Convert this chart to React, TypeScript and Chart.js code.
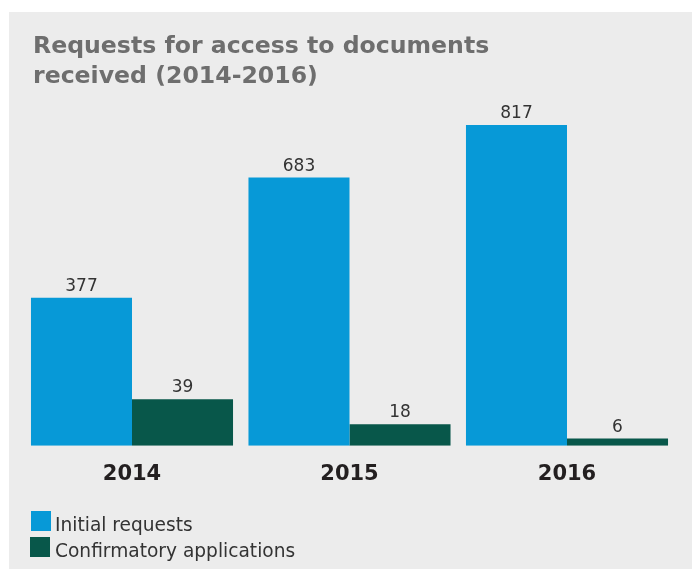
import React, { useEffect, useRef } from "react";
import { Chart, registerables } from "chart.js";

Chart.register(...registerables);

const titleLines = ["Requests for access to documents", "received (2014-2016)"];
const years = ["2014", "2015", "2016"];
const initialRequests = [377, 683, 817];
const confirmatoryApplications = [39, 18, 6];
const seriesNames = ["Initial requests", "Confirmatory applications"];
const seriesColors = ["#0799d7", "#08574a"];

const W = 683;
const H = 557;
const FONT = "'DejaVu Sans', Verdana, sans-serif";

const drawPlugin = {
  id: "customDraw",
  afterDatasetsDraw(chart: any) {
    const ctx = chart.ctx;
    ctx.save();
    // title
    ctx.fillStyle = "#6e6e6e";
    ctx.font = `bold 23.6px ${FONT}`;
    ctx.textAlign = "left";
    ctx.textBaseline = "alphabetic";
    titleLines.forEach((t, i) => ctx.fillText(t, 24, 41 + i * 30));

    // value labels
    ctx.fillStyle = "#333333";
    ctx.font = `17px ${FONT}`;
    ctx.textAlign = "center";
    chart.data.datasets.forEach((ds: any, di: number) => {
      const meta = chart.getDatasetMeta(di);
      meta.data.forEach((bar: any, i: number) => {
        ctx.fillText(String(ds.data[i]), bar.x, bar.y - 7);
      });
    });

    // category labels
    const xs = chart.scales.x;
    ctx.fillStyle = "#231f20";
    ctx.font = `bold 21px ${FONT}`;
    years.forEach((y, i) => {
      ctx.fillText(y, xs.getPixelForValue(i), 468);
    });

    // legend
    ctx.textAlign = "left";
    ctx.font = `18.6px ${FONT}`;
    seriesNames.forEach((n, i) => {
      ctx.fillStyle = seriesColors[i];
      ctx.fillRect(22 - i, 499 + i * 26, 20, 20);
      ctx.fillStyle = "#333333";
      ctx.fillText(n, 46, 519 + i * 26);
    });
    ctx.restore();
  },
};

export default function App() {
  const ref = useRef<HTMLCanvasElement>(null);
  useEffect(() => {
    if (!ref.current) return;
    const chart = new Chart(ref.current, {
      type: "bar",
      data: {
        labels: years,
        datasets: [
          {
            label: seriesNames[0],
            data: initialRequests,
            backgroundColor: seriesColors[0],
            yAxisID: "y",
            categoryPercentage: 0.929,
            barPercentage: 1,
          },
          {
            label: seriesNames[1],
            data: confirmatoryApplications,
            backgroundColor: seriesColors[1],
            yAxisID: "y2",
            categoryPercentage: 0.929,
            barPercentage: 1,
          },
        ],
      },
      options: {
        responsive: false,
        animation: false,
        devicePixelRatio: 1,
        layout: { padding: { left: 14.25, right: 16.25, top: 41.2, bottom: 123.3 } },
        plugins: {
          legend: { display: false },
          title: { display: false },
          tooltip: { enabled: false },
        },
        scales: {
          x: { display: false },
          y: { display: false, min: 0, max: 1000 },
          y2: { display: false, min: 0, max: 330 },
        },
      },
      plugins: [drawPlugin],
    });
    return () => chart.destroy();
  }, []);
  return (
    <div
      style={{
        position: "fixed",
        left: 9,
        top: 12,
        right: 0,
        bottom: 0,
        background: "#ececec",
      }}
    >
      <canvas ref={ref} width={W} height={H} style={{ display: "block", width: W, height: H }} />
    </div>
  );
}
